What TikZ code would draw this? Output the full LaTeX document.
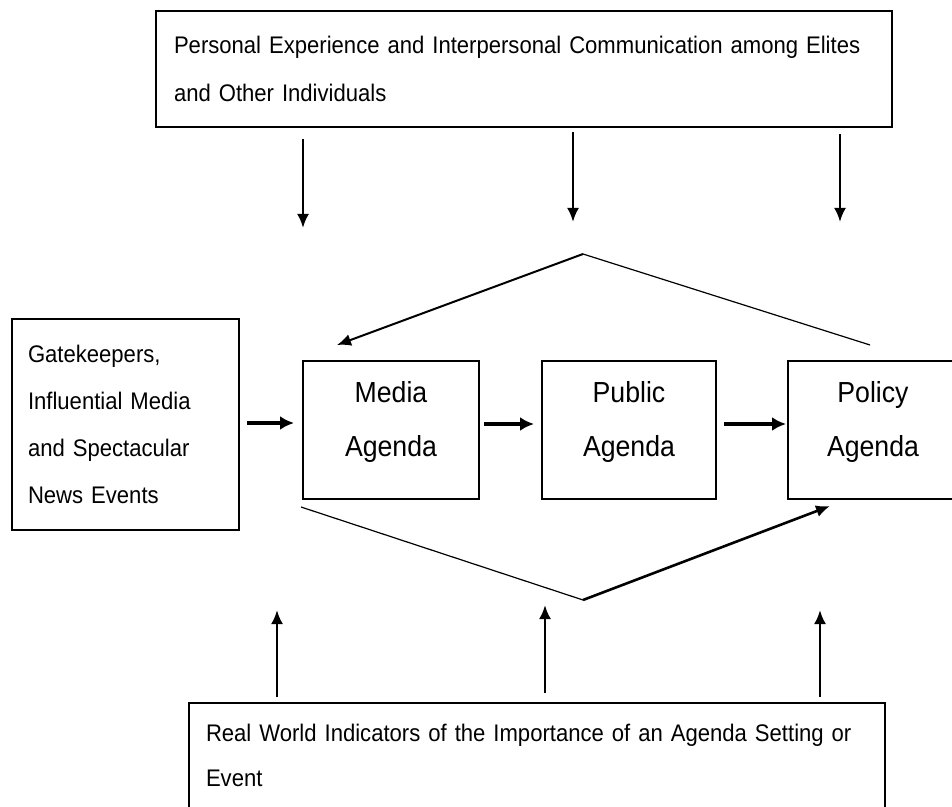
\documentclass[tikz,border=0pt]{standalone}
\usepackage{fontspec}
\setmainfont[FakeStretch=0.92]{Liberation Sans}
\usetikzlibrary{arrows.meta}

\begin{document}
\begin{tikzpicture}[x=0.5pt, y=-0.5pt, line join=miter,
            box/.style = {draw, line width=1pt, inner sep=0pt, font=\fontsize{12}{23.5}\selectfont},
            wide/.style = {box, anchor=north west, align=left},
            agenda/.style = {box, minimum width=88pt, minimum height=69pt, align=center, font=\fontsize{14.5}{27}\selectfont},
            arr/.style = {-{Latex[length=7pt, width=6pt]}, line width=1.3pt},
            harr/.style = {-{Latex[length=7pt, width=7pt]}, line width=2pt},
            thin/.style = {line width=0.6pt}]
    \fill[white] (0,0) rectangle (952,807);
    \useasboundingbox (0,0) rectangle (952,807);
    \clip (0,0) rectangle (952,807);

    % boxes
    \node[wide, text width=350pt, minimum height=58pt, inner xsep=9pt, font=\fontsize{12}{24}\selectfont] (personal) at (155,10)
        {Personal Experience and Interpersonal Communication among Elites\\and Other Individuals};
    \node[wide, text width=97.5pt, minimum height=105.5pt, inner xsep=8pt] (gate) at (11,318)
        {Gatekeepers,\\Influential Media\\and Spectacular\\News Events};
    \node[agenda] (media) at (391,430) {Media\\Agenda\\[-16pt]\mbox{}};
    \node[agenda, minimum width=87pt] (public) at (629,430) {Public\\Agenda\\[-16pt]\mbox{}};
    \node[agenda, anchor=west, minimum width=85pt] (policy) at (787,430) {Policy\\Agenda\\[-16pt]\mbox{}};
    \node[wide, text width=331pt, inner xsep=8.5pt, inner ysep=10.5pt, font=\fontsize{12}{22.5}\selectfont] (real) at (188,702)
        {Real World Indicators of the Importance of an Agenda Setting or\\Event\\\mbox{}\\\mbox{}};

    % free ends
    \coordinate (tl) at (303,228);
    \coordinate (tm) at (573,222);
    \coordinate (tr) at (840,222);
    \coordinate (bl) at (277,610);
    \coordinate (bm) at (545,605);
    \coordinate (br) at (820,610);
    \coordinate (apexT) at (583,254);
    \coordinate (apexB) at (583,600);
    \coordinate (topR) at (870,345);
    \coordinate (topL) at (337,345);
    \coordinate (botL) at (301,507);
    \coordinate (botR) at (830,506);

    % top arrows
    \draw[arr] ([yshift=-5.5pt]personal.south -| tl) -- (tl);
    \draw[arr] ([yshift=-2pt]personal.south -| tm) -- (tm);
    \draw[arr] ([yshift=-3pt]personal.south -| tr) -- (tr);

    % chevrons
    \draw[thin] (topR) -- (apexT);
    \draw[arr, line width=1pt] (apexT) -- (topL);
    \draw[thin] (botL) -- (apexB);
    \draw[arr, line width=1.3pt] (apexB) -- (botR);

    % main row
    \draw[harr] ([xshift=3.5pt]gate.east |- 0,423) -- ([xshift=-4pt]media.west |- 0,423);
    \draw[harr] ([xshift=2pt]media.east |- 0,424) -- ([xshift=-3.5pt]public.west |- 0,424);
    \draw[harr] ([xshift=3.5pt]public.east |- 0,424) -- ([xshift=-0.5pt]policy.west |- 0,424);

    % bottom arrows
    \draw[arr] ([yshift=2.5pt]real.north -| bl) -- (bl);
    \draw[arr] ([yshift=4.5pt]real.north -| bm) -- (bm);
    \draw[arr] ([yshift=2.5pt]real.north -| br) -- (br);
\end{tikzpicture}
\end{document}
